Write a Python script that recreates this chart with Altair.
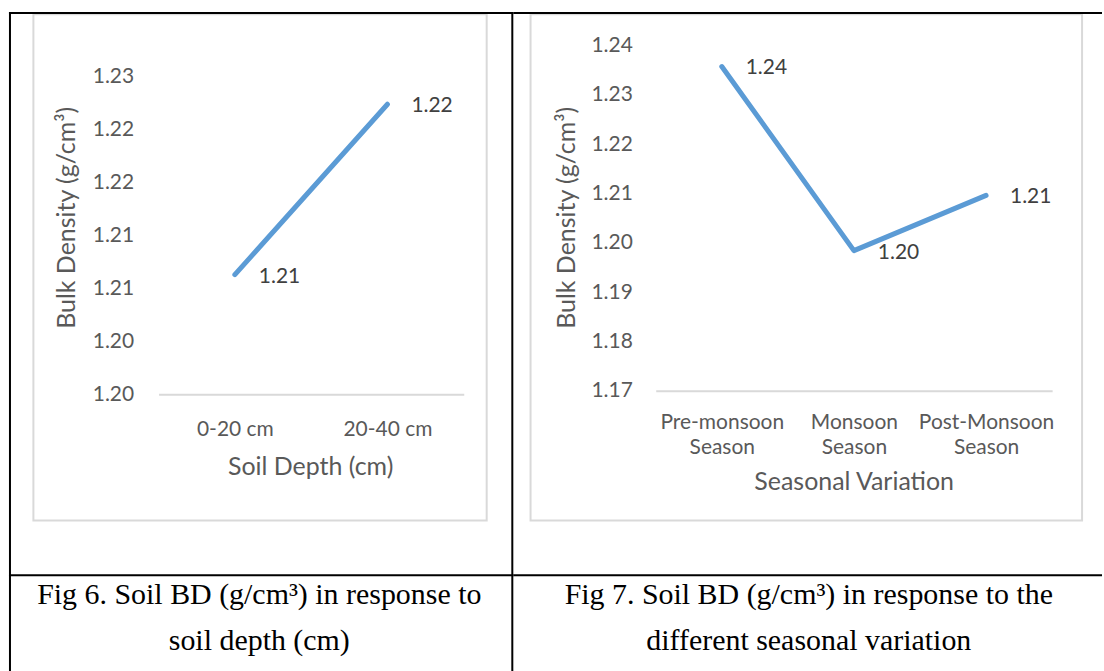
import altair as alt
import pandas as pd

# ---------------- data ----------------
LEFT_CATS = ["0-20 cm", "20-40 cm"]
LEFT_VALUES = [1.2063, 1.2224]
LEFT_Y_TICKS = [1.195, 1.200, 1.205, 1.210, 1.215, 1.220, 1.225]
LEFT_Y_LABELS = ["1.20", "1.20", "1.21", "1.21", "1.22", "1.22", "1.23"]

RIGHT_CATS = ["Pre-monsoon Season", "Monsoon Season", "Post-Monsoon Season"]
RIGHT_VALUES = [1.2357, 1.1984, 1.2096]
RIGHT_Y_TICKS = [1.17, 1.18, 1.19, 1.20, 1.21, 1.22, 1.23, 1.24]
RIGHT_Y_LABELS = ["1.17", "1.18", "1.19", "1.20", "1.21", "1.22", "1.23", "1.24"]

Y_TITLE = "Bulk Density (g/cm³)"
LEFT_X_TITLE = "Soil Depth (cm)"
RIGHT_X_TITLE = "Seasonal Variation"
CAPTIONS = [
    "Fig 6. Soil BD (g/cm³) in response to\nsoil depth (cm)",
    "Fig 7. Soil BD (g/cm³) in response to the\ndifferent seasonal variation",
]

# ---------------- style ----------------
LINE_COLOR = "#5B9BD5"
TEXT_COLOR = "#595959"
LABEL_COLOR = "#404040"
GRID_COLOR = "#D9D9D9"
FONT = "Lato"
LABEL_SIZE = 21
TITLE_SIZE = 25
H = 671
LW, RW = 514, 590


def label_expr(ticks, labels):
    expr = "''"
    for t, l in reversed(list(zip(ticks, labels))):
        expr = f"abs(datum.value - {t}) < 0.0001 ? '{l}' : ({expr})"
    return expr


one = alt.Data(values=[{"k": 1}])


def hrule(x1, x2, y, color="black", w=2):
    return alt.Chart(one).mark_rule(color=color, strokeWidth=w).encode(
        x=alt.value(x1), x2=alt.value(x2), y=alt.value(y))


def vrule(x, y1, y2, color="black", w=2):
    return alt.Chart(one).mark_rule(color=color, strokeWidth=w).encode(
        x=alt.value(x), y=alt.value(y1), y2=alt.value(y2))


def frame(x1, x2, y1, y2):
    return alt.Chart(one).mark_rect(fillOpacity=0, stroke=GRID_COLOR, strokeWidth=2).encode(
        x=alt.value(x1), x2=alt.value(x2), y=alt.value(y1), y2=alt.value(y2))


def caption(text, x, y):
    return alt.Chart(alt.Data(values=[{"c": text}])).mark_text(
        font="Liberation Serif", fontSize=30, color="black", align="center",
        baseline="alphabetic", lineBreak="\n", lineHeight=46,
    ).encode(text="c:N", x=alt.value(x), y=alt.value(y))


def panel(cats, values, xrange, ydomain, yrange, yticks, ylabels,
          yaxis_x, xaxis_y, xtitle, xtitle_x, xtitle_dy, ytitle_x, ytitle_y,
          xlabel_pad, multiline):
    df = pd.DataFrame({"cat": cats, "val": values})
    x_axis = alt.Axis(
        title=xtitle, titleX=xtitle_x, titleY=xtitle_dy, titleBaseline="middle",
        titleAnchor="middle", titleAlign="center",
        offset=-(H - xaxis_y), domain=True, domainColor=GRID_COLOR, domainWidth=2,
        ticks=False, tickSize=0, grid=False, labelAngle=0, labelPadding=xlabel_pad,
        labelLineHeight=25,
        **({"labelExpr": "split(datum.label, ' ')"} if multiline else {}),
    )
    y_axis = alt.Axis(
        title=Y_TITLE, titleX=ytitle_x - yaxis_x, titleY=ytitle_y, titleAngle=270,
        titleBaseline="middle", titleAlign="center",
        offset=-yaxis_x, domain=False, ticks=False, tickSize=0, grid=False,
        values=yticks, labelExpr=label_expr(yticks, ylabels), labelPadding=8,
    )
    x = alt.X("cat:N", sort=cats, axis=x_axis,
              scale=alt.Scale(type="point", domain=cats, range=xrange, padding=0.5))
    y = alt.Y("val:Q", axis=y_axis,
              scale=alt.Scale(domain=ydomain, range=yrange, nice=False, zero=False))
    base = alt.Chart(df).encode(x=x, y=y)
    line = base.mark_line(color=LINE_COLOR, strokeWidth=5, strokeCap="round", strokeJoin="round")
    text = base.mark_text(align="left", baseline="middle", dx=24, dy=2, font=FONT,
                          fontSize=LABEL_SIZE, color=LABEL_COLOR).encode(
        text=alt.Text("val:Q", format=".2f"))
    return line, text


l_line, l_text = panel(
    LEFT_CATS, LEFT_VALUES, [158, 464], [1.195, 1.225], [393.5, 75],
    LEFT_Y_TICKS, LEFT_Y_LABELS, yaxis_x=141, xaxis_y=393.5,
    xtitle=LEFT_X_TITLE, xtitle_x=310, xtitle_dy=72.5, ytitle_x=66, ytitle_y=216,
    xlabel_pad=24, multiline=False)

r_line, r_text = panel(
    RIGHT_CATS, RIGHT_VALUES, [142.5, 540], [1.17, 1.24], [390, 43.5],
    RIGHT_Y_TICKS, RIGHT_Y_LABELS, yaxis_x=127, xaxis_y=390,
    xtitle=RIGHT_X_TITLE, xtitle_x=341, xtitle_dy=90.5, ytitle_x=53, ytitle_y=216,
    xlabel_pad=21, multiline=True)

left = alt.layer(
    frame(32.5, 487, 12.5, 520),
    l_line, l_text,
    hrule(8, LW, 11), vrule(9, 10, H), vrule(512.7, 10, H), hrule(8, LW, 575),
    caption(CAPTIONS[0], 259, 604),
).properties(width=LW, height=H)

right = alt.layer(
    frame(17, 570, 12.5, 520),
    r_line, r_text,
    hrule(0, RW, 11), hrule(0, RW, 575),
    caption(CAPTIONS[1], 296, 604),
).properties(width=RW, height=H)

chart = alt.hconcat(left, right, spacing=0, bounds="flush").properties(
    padding=0, background="white"
).configure_view(stroke="transparent").configure_axis(
    labelFont=FONT, labelFontSize=LABEL_SIZE, labelColor=TEXT_COLOR,
    titleFont=FONT, titleFontSize=TITLE_SIZE, titleColor=TEXT_COLOR,
    titleFontWeight="normal",
)

chart.save("out.html", embed_options={"renderer": "svg", "actions": False})
